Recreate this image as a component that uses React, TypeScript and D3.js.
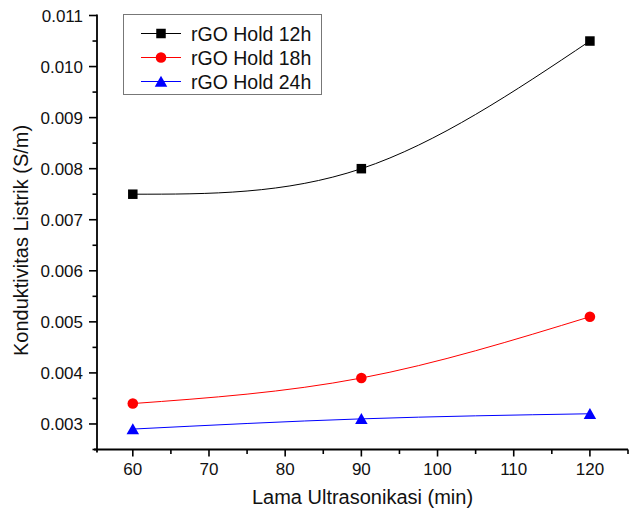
import React from "react";
import * as d3 from "d3";

// Ultrasonication time (min) and electrical conductivity (S/m) for each hold time
const durations = [60, 90, 120];
const hold12h = [0.0075, 0.008, 0.0105];
const hold18h = [0.0034, 0.0039, 0.0051];
const hold24h = [0.0029, 0.0031, 0.0032];
const seriesNames = ["rGO Hold 12h", "rGO Hold 18h", "rGO Hold 24h"];

const xMajorTicks = [60, 70, 80, 90, 100, 110, 120];
const xMinorTicks = [65, 75, 85, 95, 105, 115, 125];
const yMajorTicks = [0.003, 0.004, 0.005, 0.006, 0.007, 0.008, 0.009, 0.01, 0.011];
const yMinorTicks = [0.0025, 0.0035, 0.0045, 0.0055, 0.0065, 0.0075, 0.0085, 0.0095, 0.0105];

const xTitle = "Lama Ultrasonikasi (min)";
const yTitle = "Konduktivitas Listrik (S/m)";

const W = 631;
const H = 512;
const FONT = "'Liberation Sans', Arial, Helvetica, sans-serif";

type Shape = "square" | "circle" | "triangle";

const series = [
  { name: seriesNames[0], values: hold12h, color: "#000000", shape: "square" as Shape },
  { name: seriesNames[1], values: hold18h, color: "#ff0000", shape: "circle" as Shape },
  { name: seriesNames[2], values: hold24h, color: "#0000ff", shape: "triangle" as Shape },
];

function Marker({ x, y, shape, color }: { x: number; y: number; shape: Shape; color: string }) {
  if (shape === "square") {
    return <rect x={x - 4.75} y={y - 4.75} width={9.5} height={9.5} fill={color} />;
  }
  if (shape === "circle") {
    return <circle cx={x} cy={y} r={5.3} fill={color} />;
  }
  const h = 10.5;
  const w = 12.5;
  return (
    <path
      d={`M${x},${y - h / 2 - 0.5}L${x + w / 2},${y + h / 2}L${x - w / 2},${y + h / 2}Z`}
      fill={color}
    />
  );
}

export default function App() {
  const x = d3.scaleLinear().domain([55.3, 125]).range([97, 628]);
  const y = d3.scaleLinear().domain([0.0025, 0.011]).range([449.5, 15.5]);

  const line = d3
    .line<[number, number]>()
    .x((d) => x(d[0]))
    .y((d) => y(d[1]))
    .curve(d3.curveNatural);

  const fmt = d3.format(".3f");
  const x0 = x.range()[0];
  const x1 = x.range()[1];
  const yb = y.range()[0];
  const yt = y.range()[1];

  return (
    <div style={{ position: "fixed", left: 0, top: 0 }}>
      <svg width={W} height={H} style={{ display: "block", background: "#fff" }} fontFamily={FONT}>
        <rect width={W} height={H} fill="#fff" />

        {/* data curves */}
        {series.map((s) => (
          <path
            key={s.name + "-line"}
            d={line(durations.map((d, i) => [d, s.values[i]] as [number, number])) || ""}
            fill="none"
            stroke={s.color}
            strokeWidth={1}
          />
        ))}
        {series.map((s) =>
          durations.map((d, i) => (
            <Marker key={s.name + d} x={x(d)} y={y(s.values[i])} shape={s.shape} color={s.color} />
          ))
        )}

        {/* y axis */}
        <line x1={x0} x2={x0} y1={yt - 1} y2={yb + 3} stroke="#000" strokeWidth={1.8} />
        {yMajorTicks.map((t) => (
          <g key={"ym" + t}>
            <line x1={x0 - 8} x2={x0} y1={y(t)} y2={y(t)} stroke="#000" strokeWidth={1.6} />
            <text x={x0 - 14} y={y(t)} dy="0.36em" textAnchor="end" fontSize={17} fill="#111">
              {fmt(t)}
            </text>
          </g>
        ))}
        {yMinorTicks.map((t) => (
          <line key={"yn" + t} x1={x0 - 4.5} x2={x0} y1={y(t)} y2={y(t)} stroke="#000" strokeWidth={1.6} />
        ))}

        {/* x axis */}
        <line x1={x0 - 3} x2={x1} y1={yb} y2={yb} stroke="#000" strokeWidth={1.8} />
        {xMajorTicks.map((t) => (
          <g key={"xm" + t}>
            <line x1={x(t)} x2={x(t)} y1={yb} y2={yb + 7} stroke="#000" strokeWidth={1.6} />
            <text x={x(t)} y={475} textAnchor="middle" fontSize={17} fill="#111">
              {t}
            </text>
          </g>
        ))}
        {xMinorTicks.map((t) => (
          <line key={"xn" + t} x1={x(t)} x2={x(t)} y1={yb} y2={yb + 4.5} stroke="#000" strokeWidth={1.6} />
        ))}

        {/* axis titles */}
        <text x={(x0 + x1) / 2} y={504} textAnchor="middle" fontSize={20} fill="#111">
          {xTitle}
        </text>
        <text
          transform={`translate(28, ${(yt + yb) / 2 + 8}) rotate(-90)`}
          textAnchor="middle"
          fontSize={20}
          fill="#111"
        >
          {yTitle}
        </text>

        {/* legend */}
        <rect x={123.5} y={14.5} width={198} height={80} fill="#fff" stroke="#777" strokeWidth={1} />
        {series.map((s, i) => {
          const ry = 33.5 + i * 24;
          return (
            <g key={s.name + "-legend"}>
              <line x1={141} x2={181} y1={ry} y2={ry} stroke={s.color} strokeWidth={1} />
              <Marker x={161} y={ry} shape={s.shape} color={s.color} />
              <text x={191} y={ry} dy="0.36em" fontSize={19.5} fill="#111">
                {s.name}
              </text>
            </g>
          );
        })}
      </svg>
    </div>
  );
}
